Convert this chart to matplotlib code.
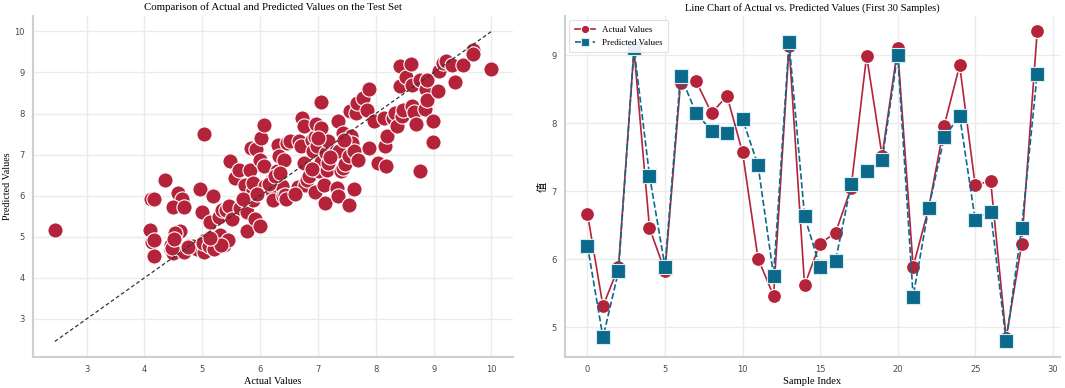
import matplotlib
matplotlib.use("Agg")
import matplotlib.pyplot as plt
import numpy as np

# ---- data: scatter (actual vs predicted on test set) ----
actual_test = [2.45, 4.10, 4.13, 4.16, 4.17, 4.12, 4.17, 4.35, 4.58, 4.65, 4.49, 4.69, 4.56, 4.61, 4.53,
               4.46, 4.45, 4.50, 4.68, 4.76, 4.84, 4.91, 4.96, 5.00, 5.03, 5.05, 5.03, 5.11, 5.14, 5.14,
               5.19, 5.21, 5.30, 5.31, 5.28, 5.34, 5.41, 5.46, 5.47, 5.51, 5.57, 5.63, 5.65, 5.70, 5.74,
               5.77, 5.77, 5.83, 5.84, 5.87, 5.88, 5.88, 5.91, 5.93, 5.99, 6.01, 6.00, 6.06, 6.06, 6.09,
               6.20, 6.20, 6.23, 6.29, 6.30, 6.32, 6.33, 6.37, 6.40, 6.43, 6.41, 6.45, 6.47, 6.52, 6.66,
               6.67, 6.71, 6.73, 6.76, 6.76, 6.78, 6.81, 6.85, 6.89, 6.92, 6.94, 6.95, 6.96, 6.98, 7.02,
               7.05, 7.06, 7.06, 7.10, 7.12, 7.14, 7.15, 7.17, 7.18, 7.31, 7.33, 7.34, 7.34, 7.37, 7.40,
               7.43, 7.44, 7.47, 7.53, 7.53, 7.56, 7.57, 7.59, 7.62, 7.62, 7.66, 7.68, 7.70, 7.77, 7.84,
               7.89, 7.89, 7.96, 8.03, 8.14, 8.16, 8.17, 8.19, 8.30, 8.33, 8.36, 8.41, 8.41, 8.45, 8.47,
               8.52, 8.61, 8.62, 8.63, 8.66, 8.69, 8.77, 8.77, 8.85, 8.87, 8.89, 8.89, 8.99, 8.99, 9.07,
               9.10, 9.16, 9.22, 9.31, 9.37, 9.51, 9.68, 9.68, 10.00,
               5.38, 5.44, 4.47, 4.51, 4.75, 5.02, 5.12, 5.20, 5.32, 5.14, 5.70, 6.15, 6.25, 6.90, 7.00,
               7.20, 7.45, 6.60, 6.35, 5.95]
predicted_test = [5.16, 5.16, 4.87, 4.93, 4.54, 5.93, 5.93, 6.37, 6.07, 5.93, 5.73, 5.72, 5.12, 5.13, 5.09,
                  4.79, 4.67, 4.61, 4.63, 4.77, 4.78, 4.69, 6.17, 5.61, 7.51, 4.91, 4.63, 4.87, 5.00, 5.35,
                  5.99, 4.70, 5.04, 4.77, 5.48, 5.66, 5.66, 5.74, 6.85, 5.43, 6.42, 6.63, 5.70, 5.94, 6.26,
                  5.61, 5.13, 6.62, 7.15, 6.15, 6.31, 5.90, 5.43, 7.14, 6.88, 7.40, 5.26, 6.72, 7.73, 6.23,
                  6.39, 6.11, 5.90, 6.59, 7.23, 6.96, 6.35, 6.23, 5.99, 6.02, 6.86, 5.91, 7.28, 7.32, 6.21,
                  7.32, 7.20, 7.89, 7.69, 6.80, 6.27, 6.39, 6.47, 7.36, 7.08, 6.09, 7.44, 7.75, 7.20, 6.59,
                  7.65, 8.27, 6.82, 6.27, 5.81, 7.04, 6.63, 7.32, 6.79, 7.08, 6.19, 7.81, 5.99, 7.08, 6.59,
                  7.53, 6.68, 6.76, 5.78, 6.96, 8.05, 7.45, 7.28, 7.08, 6.16, 8.01, 8.26, 6.88, 8.38, 8.09,
                  8.60, 7.16, 7.81, 6.80, 7.89, 7.20, 6.73, 7.45, 7.89, 8.01, 7.69, 9.15, 8.68, 7.93, 8.09,
                  8.90, 9.21, 8.70, 8.18, 8.03, 7.75, 6.59, 8.82, 8.12, 8.60, 8.82, 8.34, 7.81, 7.30, 8.54,
                  9.03, 9.23, 9.27, 9.19, 8.76, 9.17, 9.55, 9.45, 9.09,
                  4.79, 4.91, 4.73, 4.94, 4.76, 4.85, 4.77, 4.69, 4.79, 4.98, 5.92, 6.28, 6.47, 6.65, 7.40,
                  6.95, 7.35, 6.05, 6.55, 6.05]

# ---- data: first 30 samples ----
sample_index = list(range(30))
actual_30 = [6.67, 5.31, 5.88, 9.08, 6.46, 5.82, 8.59, 8.62, 8.15, 8.40,
             7.57, 6.01, 5.46, 9.14, 5.62, 6.23, 6.39, 7.05, 8.99, 7.52,
             9.10, 5.89, 6.75, 7.96, 8.85, 7.09, 7.15, 4.84, 6.22, 9.35]
predicted_30 = [6.20, 4.85, 5.82, 9.10, 7.23, 5.89, 8.70, 8.15, 7.89, 7.86,
                8.06, 7.38, 5.76, 9.19, 6.63, 5.88, 5.98, 7.10, 7.30, 7.46,
                9.01, 5.45, 6.75, 7.79, 8.11, 6.58, 6.69, 4.79, 6.46, 8.73]

RED = "#B4233A"
BLUE = "#0B6A8B"
SERIF = "Liberation Serif"
TICK_COLOR = "#4a4a4a"
GRID_COLOR = "#ebebeb"
SPINE_COLOR = "#cfcfcf"

fig = plt.figure(figsize=(10.65, 3.88), dpi=100)
ax1 = fig.add_axes([0.031, 0.080, 0.451, 0.879])
ax2 = fig.add_axes([0.5305, 0.080, 0.4645, 0.879])

def style(ax):
    ax.set_facecolor("white")
    ax.grid(True, color=GRID_COLOR, linewidth=1.0)
    ax.set_axisbelow(True)
    for s in ["top", "right"]:
        ax.spines[s].set_visible(False)
    for s in ["left", "bottom"]:
        ax.spines[s].set_color(SPINE_COLOR)
        ax.spines[s].set_linewidth(1.5)
    ax.tick_params(axis="both", length=0, labelsize=6, labelcolor=TICK_COLOR, pad=6)
    for lab in ax.get_xticklabels() + ax.get_yticklabels():
        lab.set_family("DejaVu Sans")

# ---- left: scatter ----
ax1.scatter(actual_test, predicted_test, s=120, color=RED, edgecolor="white",
            linewidth=0.8, zorder=3)
lo = min(min(actual_test), min(predicted_test))
hi = max(max(actual_test), max(predicted_test))
ax1.plot([lo, hi], [lo, hi], linestyle="--", color="#333333", linewidth=0.9,
         dashes=(3, 2), zorder=4)
ax1.set_xticks([3, 4, 5, 6, 7, 8, 9, 10])
ax1.set_yticks([3, 4, 5, 6, 7, 8, 9, 10])
style(ax1)
ax1.set_title("Comparison of Actual and Predicted Values on the Test Set",
              fontfamily=SERIF, fontsize=7.8, pad=4)
ax1.set_xlabel("Actual Values", fontfamily=SERIF, fontsize=7.4, labelpad=2)
ax1.set_ylabel("Predicted Values", fontfamily=SERIF, fontsize=7.2)
ax1.yaxis.set_label_coords(-0.044, 0.5)

# ---- right: line chart ----
ax2.plot(sample_index, actual_30, color=RED, linewidth=1.2, marker="o",
         markersize=10, markeredgecolor="white", markeredgewidth=0.8,
         label="Actual Values", zorder=3)
ax2.plot(sample_index, predicted_30, color=BLUE, linewidth=1.2, linestyle="--",
         marker="s", markersize=10, markeredgecolor="#d8ecf2", markeredgewidth=0.8,
         label="Predicted Values", zorder=4)
ax2.set_xticks([0, 5, 10, 15, 20, 25, 30])
ax2.set_yticks([5, 6, 7, 8, 9])
style(ax2)
ax2.set_title("Line Chart of Actual vs. Predicted Values (First 30 Samples)",
              fontfamily=SERIF, fontsize=7.6, pad=4)
ax2.set_xlabel("Sample Index", fontfamily=SERIF, fontsize=7.6, labelpad=2)
ax2.set_ylabel("值", fontfamily=["Noto Sans CJK SC", "DejaVu Sans"], fontsize=7.4)
ax2.yaxis.set_label_coords(-0.034, 0.5)
leg = ax2.legend(loc="upper left", prop={"family": SERIF, "size": 6.5},
                 frameon=True, fancybox=True, framealpha=0.9, borderpad=0.6,
                 markerscale=0.6, handlelength=2.2)
leg.get_frame().set_edgecolor("#dddddd")
leg.get_frame().set_linewidth(0.8)

fig.savefig("out.png", dpi=100, facecolor="white")
